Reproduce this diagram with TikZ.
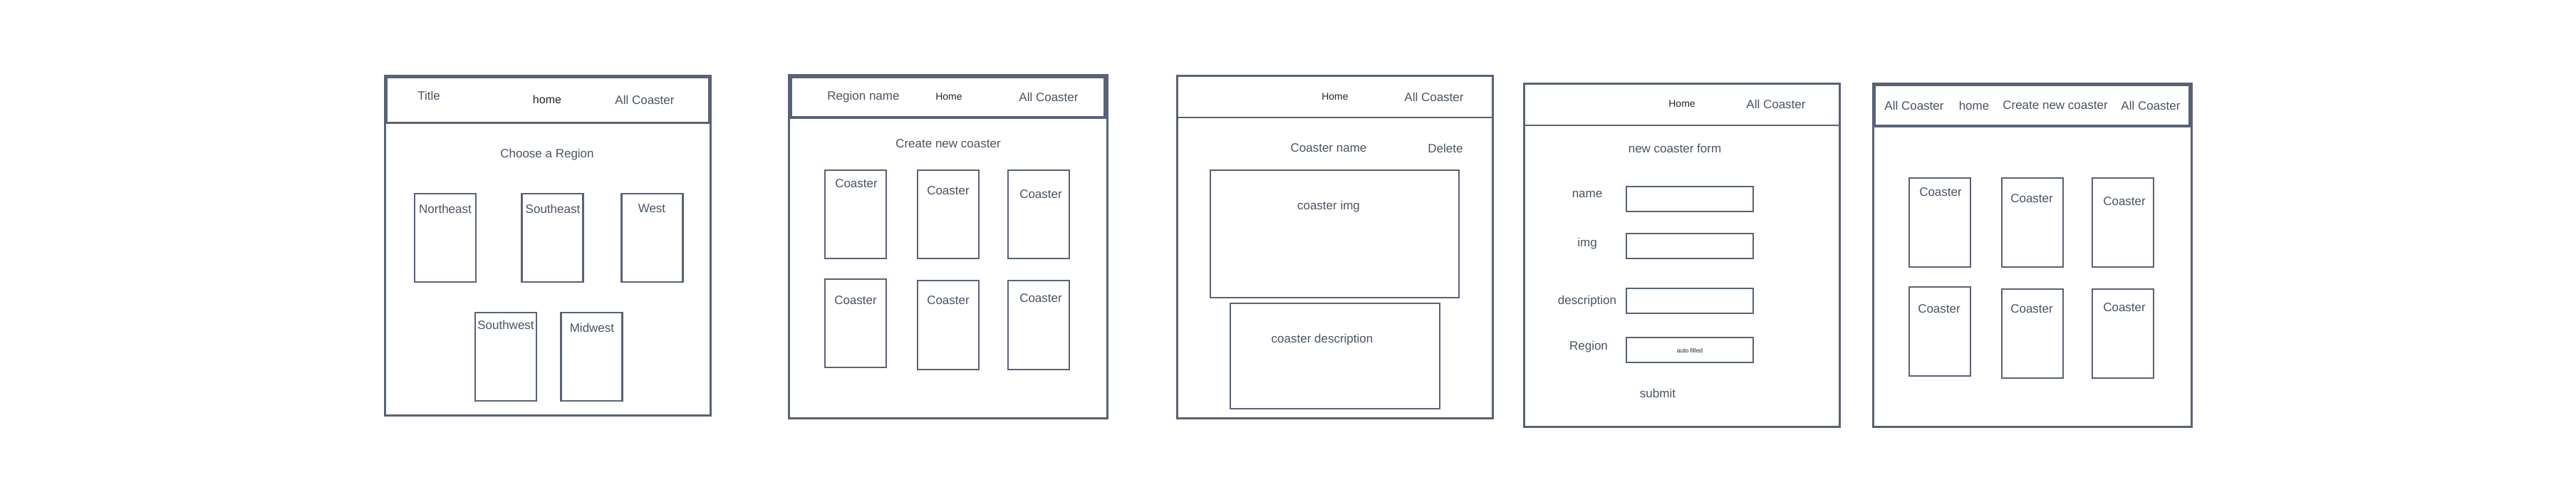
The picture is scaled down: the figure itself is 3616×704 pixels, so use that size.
\documentclass[tikz,border=0pt]{standalone}
\usepackage{fontspec}
\setmainfont{Liberation Sans}
\definecolor{ln}{HTML}{596277}
\definecolor{tx}{HTML}{4A5366}
\begin{document}
\begin{tikzpicture}[x=1pt,y=-1pt,
  frame/.style={draw=ln, line width=3pt},
  hdr/.style={draw=ln, line width=3.5pt},
  card/.style={draw=ln, line width=2.5pt, inner sep=0pt, minimum width=86pt, minimum height=124pt},
  field/.style={draw=ln, line width=2.5pt, inner sep=0pt, minimum width=178pt, minimum height=35pt},
  lbl/.style={text=tx, font=\fontsize{17}{20}\selectfont, inner sep=0pt},
  nav/.style={text=black!85, font=\fontsize{14}{17}\selectfont, inner sep=0pt},
  tiny/.style={text=black!85, font=\fontsize{8.5}{10}\selectfont, inner sep=0pt}]
\useasboundingbox[fill=white] (0,0) rectangle (3616,704);

% ---------- Panel 1 ----------
\draw[frame] (540,106) rectangle (997,583);
\draw[hdr, line width=3pt] (542,108) rectangle (995,172);
\node[lbl] (p1title) at (602,134) {Title};
\node[nav, font=\fontsize{16}{19}\selectfont] (p1home) at (768,140) {home};
\node[lbl] (p1all) at (905,140) {All Coaster};
\node[lbl] (p1choose) at (768,217) {Choose a Region};
\node[card] (p1ne) at (625,334) {};
\node[card] (p1se) at (775.5,334) {};
\node[card] (p1w) at (915.5,334) {};
\node[card] (p1sw) at (710,501) {};
\node[card] (p1mw) at (830.5,501) {};
\node[lbl] (p1nel) at (625,293) {Northeast};
\node[lbl] (p1sel) at (776,293) {Southeast};
\node[lbl] (p1wl) at (915,293) {West};
\node[lbl] (p1swl) at (710,456) {Southwest};
\node[lbl] (p1mwl) at (831,460) {Midwest};

% ---------- Panel 2 ----------
\draw[frame] (1107,105) rectangle (1554,587);
\draw[hdr] (1110,108) rectangle (1551,165);
\node[lbl] (p2region) at (1212,136) {Region name};
\node[nav] (p2home) at (1332,136) {Home};
\node[lbl] (p2all) at (1472,136) {All Coaster};
\node[lbl] (p2create) at (1331,202) {Create new coaster};
\node[card] (p2a) at (1201,301) {};
\node[card] (p2b) at (1331,301) {};
\node[card] (p2c) at (1458,301) {};
\node[card] (p2d) at (1201,454) {};
\node[card, minimum height=125pt] (p2e) at (1331,456.5) {};
\node[card, minimum height=125pt] (p2f) at (1458,456.5) {};
\node[lbl] (p2al) at (1202,258) {Coaster};
\node[lbl] (p2bl) at (1331,268) {Coaster};
\node[lbl] (p2cl) at (1461,273) {Coaster};
\node[lbl] (p2dl) at (1201,422) {Coaster};
\node[lbl] (p2el) at (1331,422) {Coaster};
\node[lbl] (p2fl) at (1461,419) {Coaster};

% ---------- Panel 3 ----------
\draw[frame] (1652,106) rectangle (2095,587);
\draw[frame, line width=2.5pt] (1652,165) -- (2095,165);
\node[nav] (p3home) at (1874,136) {Home};
\node[lbl] (p3all) at (2013,136) {All Coaster};
\node[lbl] (p3name) at (1865,208) {Coaster name};
\node[lbl] (p3del) at (2029,208) {Delete};
\node[card, minimum width=349pt, minimum height=179pt] (p3img) at (1873.5,328.5) {};
\node[card, minimum width=294pt, minimum height=148pt] (p3desc) at (1874,500) {};
\node[lbl] (p3imgl) at (1865,290) {coaster img};
\node[lbl] (p3descl) at (1856,477) {coaster description};

% ---------- Panel 4 ----------
\draw[frame] (2139,117) rectangle (2582,599);
\draw[frame, line width=2.5pt] (2139,176) -- (2582,176);
\node[nav] (p4home) at (2361,146) {Home};
\node[lbl] (p4all) at (2493,146) {All Coaster};
\node[lbl] (p4form) at (2351,208) {new coaster form};
\node[field] (p4f1) at (2372,279.5) {};
\node[field] (p4f2) at (2372,345.5) {};
\node[field] (p4f3) at (2372,422.5) {};
\node[field] (p4f4) at (2372,491.5) {};
\node[lbl] (p4name) at (2228,273) {name};
\node[lbl] (p4img) at (2228,342) {img};
\node[lbl] (p4desc) at (2228,423) {description};
\node[lbl] (p4reg) at (2230,487) {Region};
\node[tiny] (p4auto) at (2372,492) {auto filled};
\node[lbl] (p4submit) at (2327,552) {submit};

% ---------- Panel 5 ----------
\draw[frame] (2629,117) rectangle (3076,599);
\draw[hdr] (2631,119) rectangle (3074,177);
\node[lbl] (p5all1) at (2687,148) {All Coaster};
\node[lbl] (p5home) at (2771,148) {home};
\node[lbl] (p5create) at (2885,148) {Create new coaster};
\node[lbl] (p5all2) at (3019,148) {All Coaster};
\node[card, minimum height=125pt] (p5a) at (2723,312.5) {};
\node[card, minimum height=125pt] (p5b) at (2853,312.5) {};
\node[card, minimum height=125pt] (p5c) at (2980,312.5) {};
\node[card, minimum height=125pt] (p5d) at (2723,465.5) {};
\node[card, minimum height=125pt] (p5e) at (2853,468.5) {};
\node[card, minimum height=125pt] (p5f) at (2980,468.5) {};
\node[lbl] (p5al) at (2724,270) {Coaster};
\node[lbl] (p5bl) at (2852,279) {Coaster};
\node[lbl] (p5cl) at (2982,283) {Coaster};
\node[lbl] (p5dl) at (2722,434) {Coaster};
\node[lbl] (p5el) at (2852,434) {Coaster};
\node[lbl] (p5fl) at (2982,432) {Coaster};
\end{tikzpicture}
\end{document}
